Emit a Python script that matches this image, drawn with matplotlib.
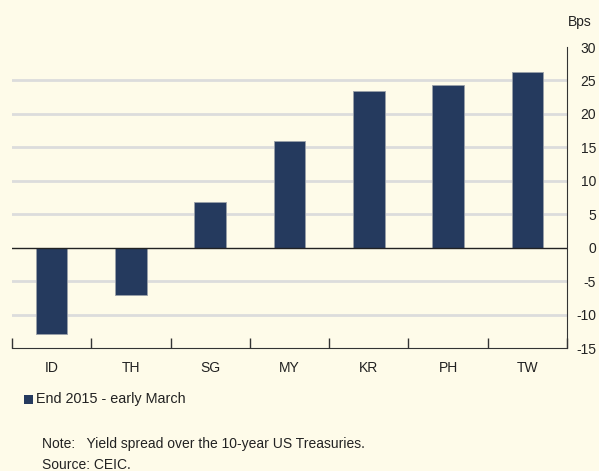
import numpy as np
import matplotlib.pyplot as plt
from matplotlib.patches import Rectangle

# Yield spread change, end 2015 - early March (bps)
countries = ['ID', 'TH', 'SG', 'MY', 'KR', 'PH', 'TW']
values = [-12.9, -7.1, 6.9, 15.9, 23.4, 24.3, 26.2]
yticks = [-15, -10, -5, 0, 5, 10, 15, 20, 25, 30]

bg = '#fefbe9'
bar_col = '#253a5e'

plt.rcParams['font.family'] = ['Liberation Sans', 'DejaVu Sans']
plt.rcParams['font.size'] = 10

fig = plt.figure(figsize=(5.99, 4.71), dpi=100, facecolor=bg)
ax = fig.add_axes([0.02, 0.2611, 0.9266, 0.6391], facecolor=bg)

x = np.arange(len(countries))
ax.bar(x, values, width=0.4, color=bar_col, edgecolor='#9aa0a8', linewidth=0.6, zorder=3)

ax.set_xlim(-0.5, len(countries) - 0.5)
ax.set_ylim(-15, 30)

# grid lines (not at the ends)
for v in yticks[1:-1]:
    if v == 0:
        ax.axhline(0, color='#222222', lw=1.0, zorder=4)
    else:
        ax.axhline(v, color='#dcdcdc', lw=2.0, zorder=1)

ax.yaxis.tick_right()
ax.set_yticks(yticks)
ax.set_yticklabels([str(v) for v in yticks], ha='right')
ax.tick_params(axis='y', length=0, pad=21, labelsize=10, colors='#222222')

# category labels, ticks at boundaries
ax.set_xticks(x)
ax.set_xticklabels(countries)
ax.tick_params(axis='x', which='major', length=0, pad=9, labelsize=10, colors='#222222')
ax.set_xticks(np.arange(-0.5, len(countries) - 0.4, 1), minor=True)
ax.tick_params(axis='x', which='minor', direction='in', length=7, width=1, color='#333333')

for s in ['top', 'left']:
    ax.spines[s].set_visible(False)
ax.spines['right'].set_color('#333333')
ax.spines['bottom'].set_color('#333333')

fig.text(0.968, 0.953, 'Bps', ha='center', va='center', fontsize=10, color='#222222')

# legend
fig.patches.append(Rectangle((24 / 599, 1 - 404 / 471), 9 / 599, 9 / 471,
                             transform=fig.transFigure, facecolor=bar_col, edgecolor='none'))
fig.text(36 / 599, 1 - 399 / 471, 'End 2015 - early March', ha='left', va='center',
         fontsize=10.4, color='#222222')

fig.text(42 / 599, 1 - 444 / 471, 'Note:   Yield spread over the 10-year US Treasuries.',
         ha='left', va='center', fontsize=10, color='#222222')
fig.text(42 / 599, 1 - 465 / 471, 'Source: CEIC.', ha='left', va='center',
         fontsize=10, color='#222222')

fig.savefig('out.png', dpi=100, facecolor=bg)
